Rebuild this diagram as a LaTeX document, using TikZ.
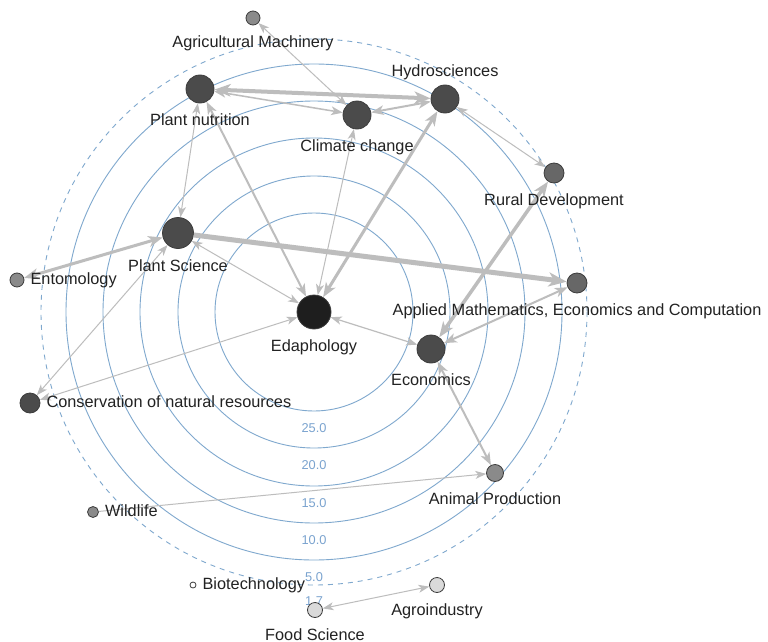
\documentclass[tikz,border=0pt]{standalone}
\usepackage{fontspec}
\setmainfont{Liberation Sans}
\usepackage{tikz}
\usetikzlibrary{arrows.meta, positioning}
\definecolor{RingBlue}{HTML}{7FA8CE}
\definecolor{ScaleBlue}{HTML}{7AA3CF}
\definecolor{LinkGray}{HTML}{BDBDBD}
\definecolor{InkDark}{HTML}{222222}
\definecolor{Coal}{HTML}{1E1E1E}
\definecolor{Slate}{HTML}{4B4B4B}
\definecolor{Ash}{HTML}{676767}
\definecolor{Smoke}{HTML}{8A8A8A}
\definecolor{Mist}{HTML}{DADADA}
\definecolor{Rim}{HTML}{3C3C3C}

\tikzset{
  topic/.style={circle, draw=Rim, line width=0.8pt, inner sep=0pt, minimum size=#1},
  lbl/.style={font=\fontsize{16.3}{19}\selectfont, text=InkDark, inner sep=0pt,
              text height=12pt, text depth=3.5pt},
  scalelbl/.style={font=\fontsize{12.8}{15}\selectfont, text=ScaleBlue, inner sep=0pt},
  ring/.style={draw=RingBlue, line width=0.9pt},
  link/.style={draw=LinkGray, line width=#1, <->},
  oneway/.style={draw=LinkGray, line width=#1, ->},
}

\begin{document}
\begin{tikzpicture}[x=1pt, y=-1pt,
    >={Stealth[length=9pt 1.8, width=6.5pt 1.5, inset=2.5pt 0.5]}]
    \fill[white] (0,0) rectangle (768,642);
    \useasboundingbox (0,0) rectangle (768,642);

    % Rings and their values
    \foreach \r/\v in {99/25.0, 136/20.0, 174/15.0, 211/10.0, 248/5.0} {
        \draw[ring] (314,312) circle[radius=\r];
        \node[scalelbl] at (314,312+\r+17) {\v};
    }
    \draw[ring, dash pattern=on 5pt off 5pt] (314,312) circle[radius=273];
    \node[scalelbl] at (314,601) {1.7};

    % Topics
    \node[topic=14pt, fill=Smoke] (agm) at (253,18) {};
    \node[topic=28pt, fill=Slate] (pnu) at (200,89) {};
    \node[topic=28pt, fill=Slate] (clc) at (357,115) {};
    \node[topic=28pt, fill=Slate] (hyd) at (445,99) {};
    \node[topic=20pt, fill=Ash] (rud) at (554,173) {};
    \node[topic=31pt, fill=Slate] (psc) at (178,233) {};
    \node[topic=14pt, fill=Smoke] (ent) at (17,280) {};
    \node[topic=20pt, fill=Ash] (ame) at (577,283) {};
    \node[topic=34pt, fill=Coal] (eda) at (314,312) {};
    \node[topic=28pt, fill=Slate] (eco) at (431,349) {};
    \node[topic=20pt, fill=Slate] (cnr) at (30,403) {};
    \node[topic=17pt, fill=Smoke] (anp) at (495,473) {};
    \node[topic=11pt, fill=Smoke] (wil) at (93,512) {};
    \node[topic=6pt, fill=white] (bio) at (193,585) {};
    \node[topic=15pt, fill=Mist] (fsc) at (315,610) {};
    \node[topic=15pt, fill=Mist] (agi) at (437,585) {};

    % Links
    \draw[link=1pt] (agm) -- (clc);
    \draw[link=4pt] (pnu) -- (hyd);
    \draw[link=1.5pt] (pnu) -- (clc);
    \draw[link=2pt] (clc) -- (hyd);
    \draw[link=1pt] (pnu) -- (psc);
    \draw[link=2pt] (pnu) -- (eda);
    \draw[link=1pt] (clc) -- (eda);
    \draw[link=3pt] (hyd) -- (eda);
    \draw[link=1pt] (hyd) -- (rud);
    \draw[link=3.5pt] (rud) -- (eco);
    \draw[oneway=5pt] (psc) -- (ame);
    \draw[link=3pt] (ent) -- (psc);
    \draw[link=1pt] (psc) -- (eda);
    \draw[link=1pt] (psc) -- (cnr);
    \draw[link=1pt] (cnr) -- (eda);
    \draw[link=1.2pt] (eda) -- (eco);
    \draw[link=2pt] (ame) -- (eco);
    \draw[link=2pt] (eco) -- (anp);
    \draw[oneway=1pt] (wil) -- (anp);
    \draw[link=1pt] (fsc) -- (agi);

    % Labels
    \node[lbl, below=10pt of agm] {Agricultural Machinery};
    \node[lbl, below=10pt of pnu] {Plant nutrition};
    \node[lbl, below=10pt of clc] {Climate change};
    \node[lbl, above=4pt of hyd] {Hydrosciences};
    \node[lbl, below=10pt of rud] {Rural Development};
    \node[lbl, below=10pt of psc] {Plant Science};
    \node[lbl, right=6pt of ent] {Entomology};
    \node[lbl, below=10pt of ame] {Applied Mathematics, Economics and Computation};
    \node[lbl, below=10pt of eda] {Edaphology};
    \node[lbl, below=10pt of eco] {Economics};
    \node[lbl, right=6pt of cnr] {Conservation of natural resources};
    \node[lbl, below=10pt of anp] {Animal Production};
    \node[lbl, right=6pt of wil] {Wildlife};
    \node[lbl, right=6pt of bio] {Biotechnology};
    \node[lbl, below=10pt of fsc] {Food Science};
    \node[lbl, below=10pt of agi] {Agroindustry};
\end{tikzpicture}
\end{document}
